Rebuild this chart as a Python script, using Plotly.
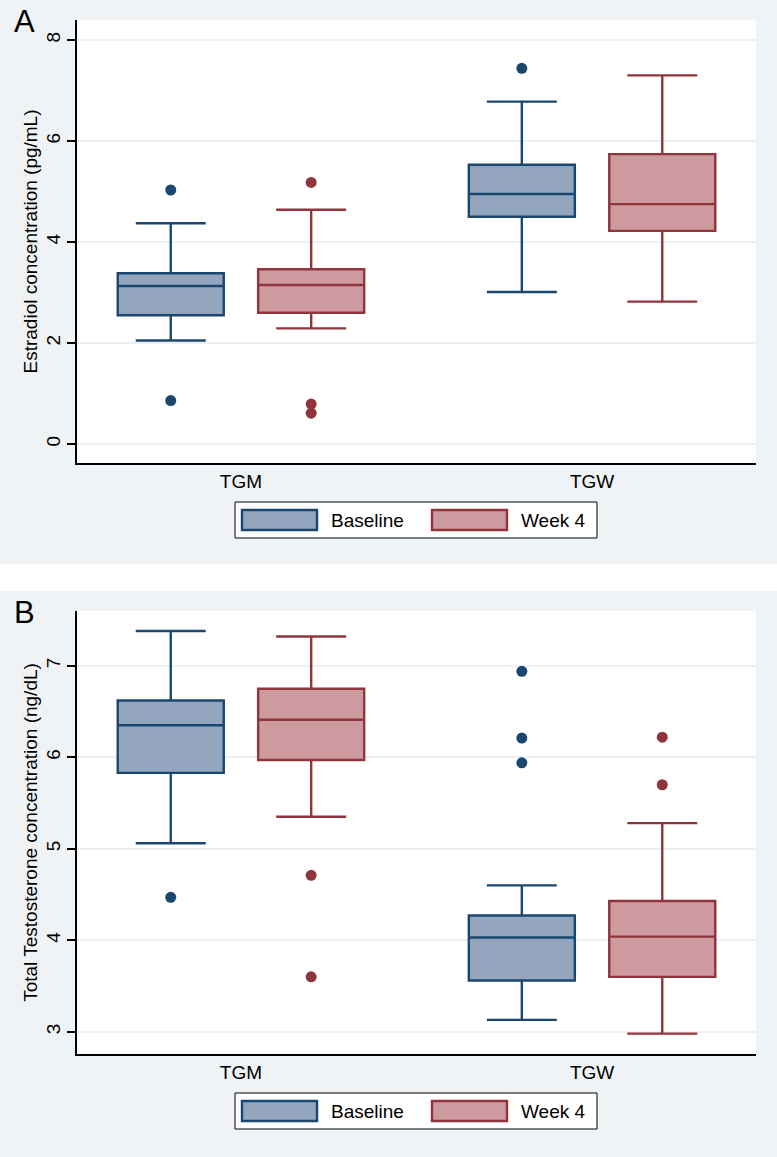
import plotly.graph_objects as go

W, H = 777, 1157

categories = ["TGM", "TGW"]
series_names = ["Baseline", "Week 4"]

# Panel A: Estradiol concentration (pg/mL)
estr_base_q1 = [2.55, 4.50]
estr_base_median = [3.13, 4.95]
estr_base_q3 = [3.38, 5.53]
estr_base_lower = [2.05, 3.01]
estr_base_upper = [4.37, 6.78]
estr_base_outliers = [[5.03, 0.86], [7.44]]

estr_wk4_q1 = [2.60, 4.22]
estr_wk4_median = [3.15, 4.75]
estr_wk4_q3 = [3.46, 5.74]
estr_wk4_lower = [2.29, 2.82]
estr_wk4_upper = [4.64, 7.30]
estr_wk4_outliers = [[5.18, 0.79, 0.61], []]

estr_ticks = [0, 2, 4, 6, 8]

# Panel B: Total Testosterone concentration (ng/dL)
test_base_q1 = [5.83, 3.56]
test_base_median = [6.35, 4.03]
test_base_q3 = [6.62, 4.27]
test_base_lower = [5.06, 3.13]
test_base_upper = [7.38, 4.60]
test_base_outliers = [[4.47], [6.94, 6.21, 5.94]]

test_wk4_q1 = [5.97, 3.60]
test_wk4_median = [6.41, 4.04]
test_wk4_q3 = [6.75, 4.43]
test_wk4_lower = [5.35, 2.98]
test_wk4_upper = [7.32, 5.28]
test_wk4_outliers = [[4.71, 3.60], [6.22, 5.70]]

test_ticks = [3, 4, 5, 6, 7]

# Styling
FONT = "Liberation Sans, Arial, Helvetica, sans-serif"
PANEL_BG = "#EFF3F6"
GRID = "#EAF0F3"
LINE_COLORS = ["#1A476F", "#90353B"]
FILL_COLORS = ["#94A6BD", "#CC9A9F"]


def fx(px):
    return px / W


def fy(py):
    return 1 - py / H


PANEL_OFFSET = 591
PLOT_LEFT, PLOT_RIGHT = 77, 756
PLOT_TOP, PLOT_BOTTOM = 20, 463

fig = go.Figure()

panels = [
    dict(xa="x", ya="y", data=[
        (estr_base_q1, estr_base_median, estr_base_q3, estr_base_lower, estr_base_upper, estr_base_outliers),
        (estr_wk4_q1, estr_wk4_median, estr_wk4_q3, estr_wk4_lower, estr_wk4_upper, estr_wk4_outliers),
    ]),
    dict(xa="x2", ya="y2", data=[
        (test_base_q1, test_base_median, test_base_q3, test_base_lower, test_base_upper, test_base_outliers),
        (test_wk4_q1, test_wk4_median, test_wk4_q3, test_wk4_lower, test_wk4_upper, test_wk4_outliers),
    ]),
]

for p in panels:
    for i, (q1, med, q3, lo, up, outl) in enumerate(p["data"]):
        fig.add_trace(go.Box(
            x=categories, y=outl,
            q1=q1, median=med, q3=q3, lowerfence=lo, upperfence=up,
            name=series_names[i], offsetgroup=series_names[i],
            boxpoints="outliers", pointpos=0, jitter=0,
            fillcolor=FILL_COLORS[i],
            line=dict(color=LINE_COLORS[i], width=2.4),
            marker=dict(color=LINE_COLORS[i], size=11),
            whiskerwidth=0.66,
            showlegend=False,
            xaxis=p["xa"], yaxis=p["ya"],
        ))

axis_font = dict(family=FONT, size=19, color="black")

common_x = dict(
    type="category", range=[-0.467, 1.467],
    showline=True, linecolor="black", linewidth=1.5,
    ticks="", showgrid=False, zeroline=False,
    tickfont=axis_font, fixedrange=True,
)
common_y = dict(
    showline=True, linecolor="black", linewidth=1.5,
    ticks="outside", ticklen=8, tickwidth=1.5, tickcolor="black",
    tickangle=-90, tickfont=axis_font,
    showgrid=True, gridcolor=GRID, gridwidth=1.5, zeroline=False,
    fixedrange=True,
)

fig.update_layout(
    width=W, height=H,
    margin=dict(l=0, r=0, t=0, b=0),
    paper_bgcolor=PANEL_BG, plot_bgcolor="white",
    boxmode="group", boxgap=0.2, boxgroupgap=0.245,
    font=dict(family=FONT, size=19, color="black"),
    showlegend=False,
    xaxis=dict(common_x, domain=[fx(PLOT_LEFT), fx(PLOT_RIGHT)], anchor="y"),
    yaxis=dict(common_y, domain=[fy(PLOT_BOTTOM), fy(PLOT_TOP)], anchor="x",
               range=[-0.376, 8.396], tickvals=estr_ticks,
               title=dict(text="Estradiol concentration (pg/mL)", font=axis_font, standoff=0)),
    xaxis2=dict(common_x, domain=[fx(PLOT_LEFT), fx(PLOT_RIGHT)], anchor="y2"),
    yaxis2=dict(common_y, domain=[fy(PLOT_BOTTOM + PANEL_OFFSET), fy(PLOT_TOP + PANEL_OFFSET)], anchor="x2",
                range=[2.757, 7.599], tickvals=test_ticks,
                title=dict(text="Total Testosterone concentration (ng/dL)", font=axis_font, standoff=0)),
)

shapes = []
annotations = []

# white gap between the two panels
shapes.append(dict(type="rect", xref="paper", yref="paper", layer="below",
                   x0=0, x1=1, y0=fy(591), y1=fy(564),
                   fillcolor="white", line=dict(width=0)))

for k, letter in enumerate(["A", "B"]):
    off = k * PANEL_OFFSET
    annotations.append(dict(text=letter, xref="paper", yref="paper",
                            x=fx(24), y=fy(21 + off), xanchor="center", yanchor="middle",
                            showarrow=False, font=dict(family=FONT, size=31, color="black")))
    # legend frame
    shapes.append(dict(type="rect", xref="paper", yref="paper",
                       x0=fx(235), x1=fx(597), y0=fy(538 + off), y1=fy(502 + off),
                       fillcolor="white", line=dict(color="black", width=1)))
    sw_x = [(242, 317, 329), (432, 507, 519)]
    for i, (sx0, sx1, tx) in enumerate(sw_x):
        shapes.append(dict(type="rect", xref="paper", yref="paper",
                           x0=fx(sx0), x1=fx(sx1), y0=fy(530 + off), y1=fy(510 + off),
                           fillcolor=FILL_COLORS[i], line=dict(color=LINE_COLORS[i], width=2.4)))
        annotations.append(dict(text=series_names[i], xref="paper", yref="paper",
                                x=fx(tx), y=fy(520 + off), xanchor="left", yanchor="middle",
                                showarrow=False, font=dict(family=FONT, size=19, color="black")))

fig.update_layout(shapes=shapes, annotations=annotations)

fig.write_html(
    "out.html",
    config={"displayModeBar": False},
    post_script="document.body.style.margin='0';document.body.style.overflow='hidden';",
)
